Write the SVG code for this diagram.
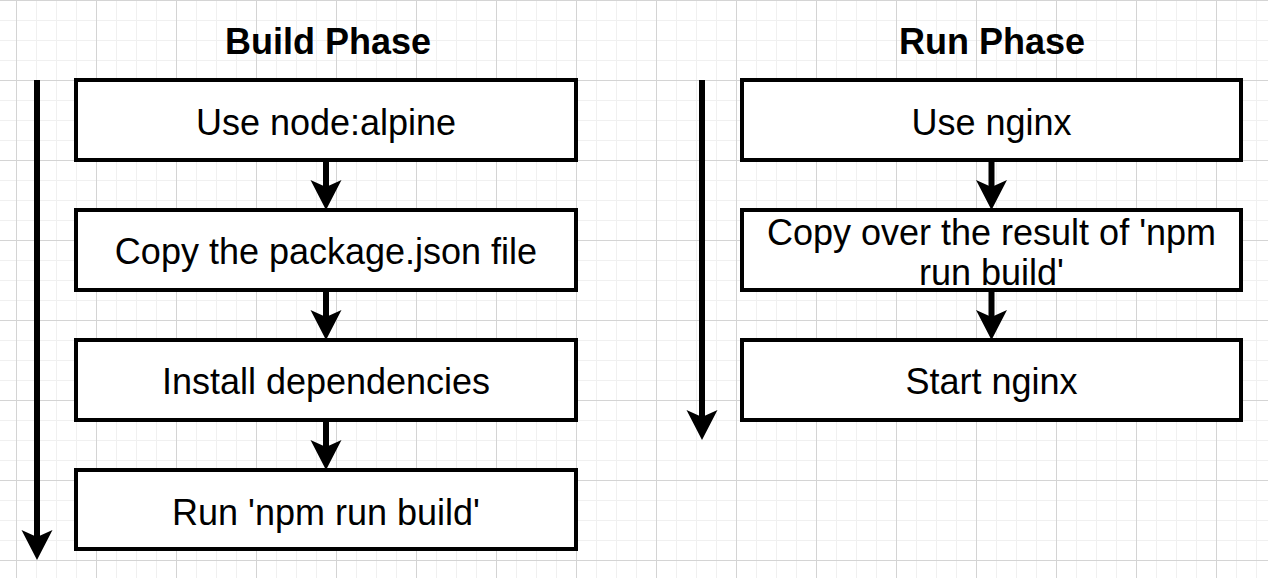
<svg xmlns="http://www.w3.org/2000/svg" width="1268" height="578" viewBox="0 0 1268 578">
<defs>
<pattern id="grid" patternUnits="userSpaceOnUse" x="16" y="0" width="80" height="80">
<path d="M20.5 0V80M40.5 0V80M60.5 0V80M0 20.5H80M0 40.5H80M0 60.5H80" stroke="#f0f0f0" stroke-width="1" fill="none"/>
<path d="M0.5 0V80M0 0.5H80" stroke="#d4d4d4" stroke-width="1" fill="none"/>
</pattern>
<style>
.box{fill:#fff;stroke:#000;stroke-width:4}
.t{font-family:"Liberation Sans",Arial,Helvetica,sans-serif;font-size:36px;fill:#000;text-anchor:middle}
.h{font-family:"Liberation Sans",Arial,Helvetica,sans-serif;font-size:36px;font-weight:bold;fill:#000;text-anchor:middle}
.shaft{stroke:#000;stroke-width:6;fill:none}
.head{fill:#000;stroke:none}
</style>
</defs>
<rect width="1268" height="578" fill="#fff"/>
<rect width="1268" height="578" fill="url(#grid)"/>
<g id="titles">
<text class="h" x="328" y="54">Build Phase</text>
<text class="h" x="992" y="54">Run Phase</text>
</g>
<g id="connectors">
<line class="shaft" x1="37" y1="80" x2="37" y2="540"/>
<path class="head" d="M37 560L21.5 530L37 537L52.5 530Z"/>
<line class="shaft" x1="702" y1="80" x2="702" y2="420"/>
<path class="head" d="M702 440L686.5 410L702 417L717.5 410Z"/>
<line class="shaft" x1="326" y1="160" x2="326" y2="195"/>
<path class="head" d="M326 210L310.5 180L326 187L341.5 180Z"/>
<line class="shaft" x1="326" y1="290" x2="326" y2="325"/>
<path class="head" d="M326 340L310.5 310L326 317L341.5 310Z"/>
<line class="shaft" x1="326" y1="420" x2="326" y2="455"/>
<path class="head" d="M326 470L310.5 440L326 447L341.5 440Z"/>
<line class="shaft" x1="991.5" y1="160" x2="991.5" y2="195"/>
<path class="head" d="M991.5 210L976 180L991.5 187L1007 180Z"/>
<line class="shaft" x1="991.5" y1="290" x2="991.5" y2="325"/>
<path class="head" d="M991.5 340L976 310L991.5 317L1007 310Z"/>
</g>
<g id="node-use-node-alpine">
<rect class="box" x="76" y="80" width="500" height="80"/>
<text class="t" x="326" y="134.5">Use node:alpine</text>
</g>
<g id="node-copy-package">
<rect class="box" x="76" y="210" width="500" height="80"/>
<text class="t" x="326" y="264">Copy the package.json file</text>
</g>
<g id="node-install">
<rect class="box" x="76" y="340" width="500" height="80"/>
<text class="t" x="326" y="394">Install dependencies</text>
</g>
<g id="node-run-build">
<rect class="box" x="76" y="470" width="500" height="79"/>
<text class="t" x="326" y="524.5">Run 'npm run build'</text>
</g>
<g id="node-use-nginx">
<rect class="box" x="742" y="80" width="499" height="80"/>
<text class="t" x="991.5" y="134.5">Use nginx</text>
</g>
<g id="node-copy-result">
<rect class="box" x="742" y="210" width="499" height="80"/>
<text class="t" x="991.5" y="245">Copy over the result of 'npm</text>
<text class="t" x="991.5" y="285">run build'</text>
</g>
<g id="node-start-nginx">
<rect class="box" x="742" y="340" width="499" height="80"/>
<text class="t" x="991.5" y="394">Start nginx</text>
</g>
</svg>
